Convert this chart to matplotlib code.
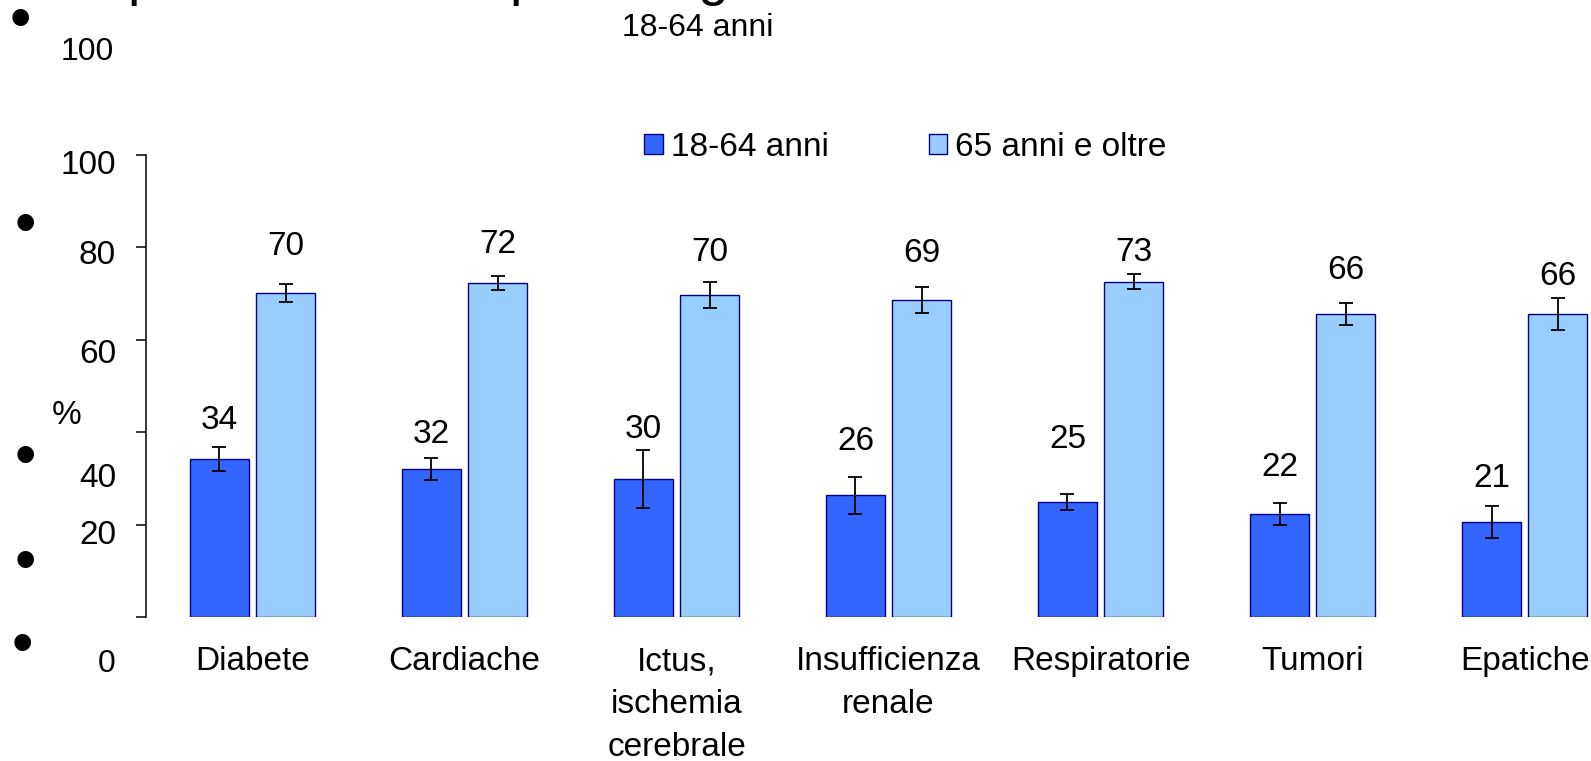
import numpy as np
import matplotlib.pyplot as plt
from matplotlib.patches import Patch

plt.rcParams['font.family'] = ['Liberation Sans', 'DejaVu Sans']

categories = ["Diabete", "Cardiache", "Ictus,\nischemia\ncerebrale",
              "Insufficienza\nrenale", "Respiratorie", "Tumori", "Epatiche"]
series = ["18-64 anni", "65 anni e oltre"]
young = [34.2, 32.0, 29.9, 26.4, 24.9, 22.3, 20.6]
old = [70.1, 72.3, 69.7, 68.6, 72.6, 65.6, 65.6]
young_err = [2.6, 2.4, 6.2, 4.0, 1.7, 2.4, 3.4]
old_err = [2.0, 1.5, 2.9, 2.8, 1.7, 2.4, 3.4]
y_ticks = [0, 20, 40, 60, 80, 100]

# layout: how far each value label sits above its bar (in % units)
lift_young = [8.4, 7.4, 10.6, 11.5, 13.6, 10.0, 9.3]
lift_old = [10.0, 8.4, 9.1, 10.0, 6.4, 9.3, 8.0]

W, H = 1591, 761
fig = plt.figure(figsize=(W / 100, H / 100), dpi=100)


def put(x, y, s, size, cy=0.36, **kw):
    # x, y in pixels from top-left; y is the visual centre of the glyphs
    px = size * 100 / 72
    fig.text(x / W, 1 - (y + cy * px) / H, s, fontsize=size, va='baseline', **kw)


ax = fig.add_axes([146 / W, (H - 617) / H, (W - 146) / W, (617 - 155) / H])
x = np.arange(len(categories))
w, off = 0.278, 0.156
ekw = dict(ecolor='black', elinewidth=1.3, capsize=5, capthick=1.3)
ax.bar(x - off, young, w, color='#3366FF', edgecolor='#000080', linewidth=1.0,
       yerr=young_err, error_kw=ekw)
ax.bar(x + off, old, w, color='#99CCFF', edgecolor='#000080', linewidth=1.0,
       yerr=old_err, error_kw=ekw)

for i in range(len(x)):
    ax.text(x[i] - off, young[i] + lift_young[i], f"{young[i]:.0f}",
            ha='center', va='center', fontsize=24)
    ax.text(x[i] + off, old[i] + lift_old[i], f"{old[i]:.0f}",
            ha='center', va='center', fontsize=24)

ax.set_xlim(-0.502, 6.313)
ax.set_ylim(0, 100)
for s in ['top', 'right', 'bottom']:
    ax.spines[s].set_visible(False)
ax.spines['left'].set_linewidth(1.1)
ax.set_yticks(y_ticks)
ax.set_yticklabels([])
ax.tick_params(axis='y', length=7.2, width=1.1, direction='out')
ax.set_xticks(x)
ax.set_xticklabels(categories, fontsize=24, linespacing=1.5)
ax.tick_params(axis='x', length=0, pad=21)

# y labels as they sit on the slide
ylab_pos = {100: 162, 80: 252, 60: 351, 40: 475, 20: 532}
for v, yy in ylab_pos.items():
    put(116, yy, str(v), 24, ha='right')
put(67, 412, "%", 24, ha='center')
narrow = ['Liberation Sans Narrow', 'Liberation Sans']
put(107, 660, "0", 23, ha='center', family=narrow)
put(87, 48, "100", 23, ha='center', family=narrow)
put(698, 25, series[0], 23, ha='center', family=narrow)

# bullets
for bx, by in [(20, 18), (25, 223), (25, 455), (25, 560), (22, 643)]:
    put(bx, by, "\u2022", 44, cy=0.33, ha='center')

# remains of the slide title, cut by the top edge
for tx, t in [(127, "p"), (509, "p"), (698, "g")]:
    fig.text(tx / W, 1 + 6.5 / H, t, fontsize=40, va='baseline', ha='left')

handles = [Patch(facecolor='#3366FF', edgecolor='#000080'),
           Patch(facecolor='#99CCFF', edgecolor='#000080')]
fig.legend(handles, series, loc='center', bbox_to_anchor=(905.5 / W, 1 - 147 / H), ncol=2,
           frameon=False, fontsize=24, handlelength=0.55, handleheight=0.55,
           handletextpad=0.25, columnspacing=3.0)

fig.savefig("out.png", dpi=100)
